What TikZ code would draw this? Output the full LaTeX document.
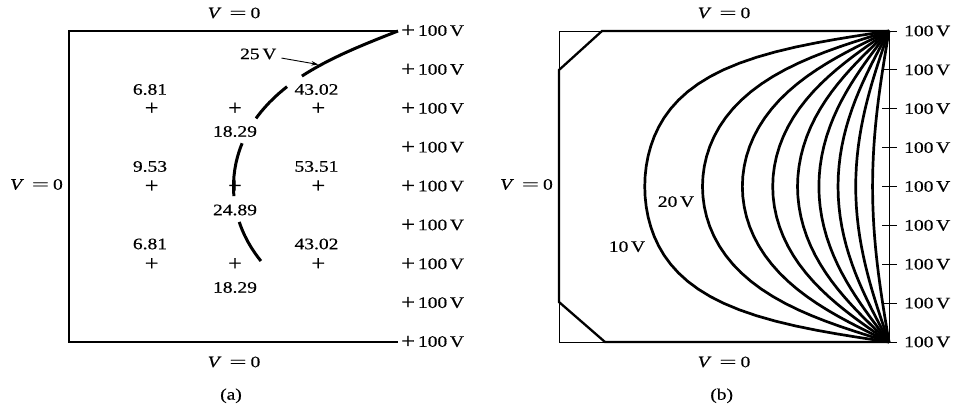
\documentclass[tikz,border=0pt]{standalone}
\usepackage{fontspec}
\usepackage{graphicx}
\setmainfont{Liberation Serif}[FakeStretch=1.22,FakeBold=0.5]
\usetikzlibrary{arrows.meta}

% potential of a square box (right side at 100 V, others grounded), method of images
\newcommand\PotU[2]{%
  \pgfmathsetmacro\PotS{sin(180*(#2))}%
  \gdef\PotUcur{0}%
  \foreach \PotIt in {1,...,7}{%
    \pgfmathsetmacro\PotA{90*(#1)+atan(\PotS/sinh(pi*(2-\PotUcur)))-deg(2*\PotS*exp(-pi*(2+\PotUcur)))}%
    \pgfmathsetmacro\PotZ{\PotS/tan(\PotA)}%
    \pgfmathsetmacro\PotUnew{ln(\PotZ+sqrt(\PotZ*\PotZ+1))/pi}%
    \global\let\PotUcur\PotUnew
  }%
  \global\let\PotUval\PotUcur
}
% #1 level, #2 y-from, #3 y-to, #4 steps, #5 x0, #6 width, #7 y0, #8 height
\newcommand\BuildContour[8]{%
  \gdef\ContourList{}%
  \foreach \ti in {0,...,#4}{%
    \pgfmathsetmacro\yy{#2+(#3-#2)*(1-cos(180*\ti/#4))/2}%
    \PotU{#1}{\yy}%
    \pgfmathsetmacro\px{#5+#6*(1-\PotUval)}%
    \pgfmathsetmacro\py{#7+#8*\yy}%
    \xdef\ContourList{\ContourList (\px,\py)}%
  }%
}
\newcommand\plusg{\scalebox{1.25}[1.35]{+}}
\newcommand\pV{\raisebox{-1.3pt}{\plusg}\kern3pt100\,V}
\newcommand\hV{100\,V}
\newcommand\Vz{\textit{V}\kern8pt\scalebox{1.55}[1]{=}\kern4pt0}

\tikzset{
  txt/.style={font=\fontsize{16}{19}\selectfont, inner sep=0pt},
  boxline/.style={line width=1.8pt},
  thinline/.style={line width=1pt},
  thickline/.style={line width=2.3pt, line cap=round},
  contour/.style={line width=2.7pt, line join=round},
  curvefive/.style={line width=3pt, line join=round},
  tickline/.style={line width=1pt},
  lblarrow/.style={line width=0.9pt, shorten <=5pt, -{Stealth[length=7pt,width=4.5pt]}}
}

\begin{document}
\begin{tikzpicture}[x=1pt,y=-1pt, every node/.style={txt}]
\useasboundingbox (0,0) rectangle (962,410);

% ---------------- panel (a) ----------------
\coordinate (aTL) at (69,31);
\coordinate (aTR) at (398,31);
\coordinate (aBL) at (69,342);
\coordinate (aBR) at (398,342);
\draw[boxline] (aTR) -- (aTL) -- (aBL) -- (aBR);

\foreach \k in {0,...,8}
  \node[anchor=west] (pa\k) at (401,31+38.875*\k) {\pV};

\node (aTop) at (234,13) {\Vz};
\node (aBot) at (234,362) {\Vz};
\node[anchor=east] (aLeft) at (63,184.5) {\Vz};
\node (aCap) at (231,395.8) {(a)};

% 25 V contour, drawn in pieces
\BuildContour{0.25}{0}{0.145}{14}{69}{329}{31}{311}
\edef\DrawIt{\noexpand\draw[curvefive] plot coordinates {\ContourList};}\DrawIt
\BuildContour{0.25}{0.179}{0.281}{10}{69}{329}{31}{311}
\edef\DrawIt{\noexpand\draw[curvefive] plot coordinates {\ContourList};}\DrawIt
\BuildContour{0.25}{0.361}{0.531}{12}{69}{329}{31}{311}
\edef\DrawIt{\noexpand\draw[curvefive] plot coordinates {\ContourList};}\DrawIt
\BuildContour{0.25}{0.614}{0.7395}{10}{69}{329}{31}{311}
\edef\DrawIt{\noexpand\draw[curvefive] plot coordinates {\ContourList};}\DrawIt

% grid points
\node (g11) at (151.7,108.75) {\plusg};
\node (g12) at (235,108.75) {\plusg};
\node (g13) at (318.3,108.75) {\plusg};
\node (g21) at (151.7,186.5) {\plusg};
\node (g22) at (235,186.5) {\plusg};
\node (g23) at (318.3,186.5) {\plusg};
\node (g31) at (151.7,264.25) {\plusg};
\node (g32) at (235,264.25) {\plusg};
\node (g33) at (318.3,264.25) {\plusg};

\node (v11) at (150,89.5) {6.81};
\node (v13) at (316.5,89.5) {43.02};
\node (v12) at (235,131.5) {18.29};
\node (v21) at (150,166.5) {9.53};
\node (v23) at (316.5,166.5) {53.51};
\node (v22) at (235,210) {24.89};
\node (v31) at (150,244) {6.81};
\node (v33) at (316.5,244) {43.02};
\node (v32) at (235,287.5) {18.29};

\node (l25) at (258.3,54) {25\,V};
\coordinate (tip25) at (318.3,64.5);
\draw[lblarrow] (l25) -- (tip25);

% ---------------- panel (b) ----------------
\coordinate (bTL) at (559,31);
\coordinate (bTd) at (602,31);
\coordinate (bLt) at (559,70);
\coordinate (bLb) at (559,302);
\coordinate (bBL) at (559,342);
\coordinate (bBd) at (605,342);
\coordinate (bTR) at (889,31);
\coordinate (bBR) at (889,342);
\draw[thinline] (bTd) -- (bTL) -- (bLt);
\draw[thinline] (bLb) -- (bBL) -- (bBd);
\draw[thickline] (bTR) -- (bTd) -- (bLt) -- (bLb) -- (bBd) -- (bBR);
\draw[thinline] (bTR) -- (bBR);

\foreach \k in {0,...,8}{
  \draw[tickline] (882,31+38.875*\k) -- (897,31+38.875*\k);
  \node[anchor=west] (pb\k) at (904,31+38.875*\k) {\hV};
}

\foreach \c in {1,...,9}{
  \BuildContour{\c/10}{0}{1}{48}{559}{330}{31}{311}
  \edef\DrawIt{\noexpand\draw[contour] plot coordinates {\ContourList};}\DrawIt
}

\node (l20) at (676,201.7) {20\,V};
\node (l10) at (627,246.7) {10\,V};

\node (bTop) at (724,13) {\Vz};
\node (bBot) at (724,362) {\Vz};
\node[anchor=east] (bLeft) at (553,184.5) {\Vz};
\node (bCap) at (721.7,395.8) {(b)};
\end{tikzpicture}
\end{document}
